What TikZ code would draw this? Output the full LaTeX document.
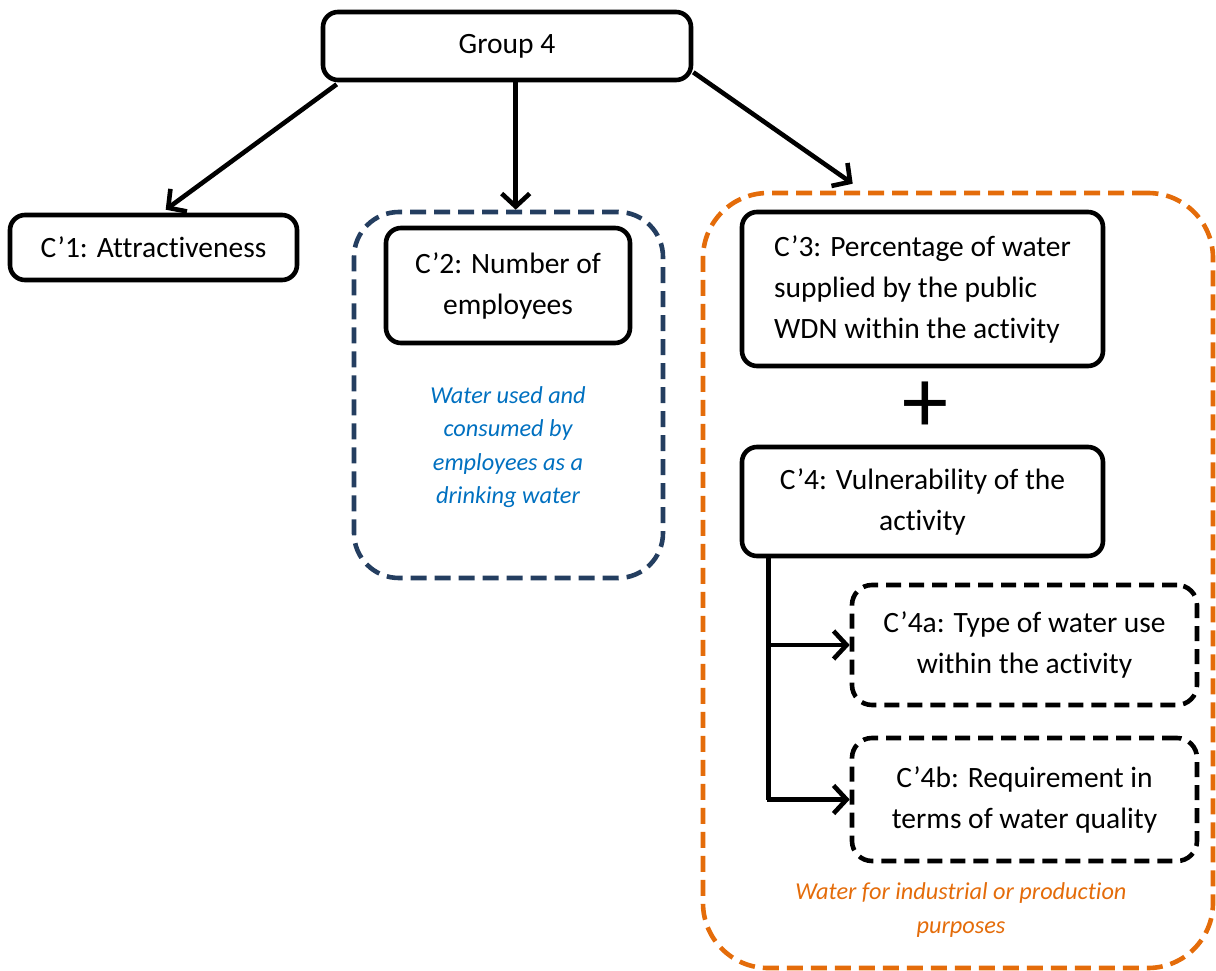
\documentclass[tikz,border=0pt]{standalone}
\usepackage{fontspec}
\setmainfont[Ligatures=NoCommon]{Carlito}
\usetikzlibrary{arrows.meta,calc}
\definecolor{navy}{RGB}{36,62,96}
\definecolor{orangeframe}{RGB}{228,108,10}
\definecolor{noteblue}{RGB}{0,112,192}
\tikzset{
  box/.style={draw=black, line width=4.6pt, rounded corners=15pt, inner sep=0pt,
    font=\fontsize{29.5}{41}\selectfont, align=center},
  dashbox/.style={box, dash pattern=on 15pt off 8pt, rounded corners=20pt},
  frame/.style={line width=4.6pt, inner sep=0pt, dash pattern=on 16pt off 8pt},
  note/.style={font=\fontsize{24.3}{33.5}\selectfont\itshape, align=center, inner sep=0pt},
  link/.style={line width=4.6pt, -{Straight Barb[length=13pt,width=28pt,line width=4.6pt]}},
  plain/.style={line width=4.6pt}
}
\begin{document}
\begin{tikzpicture}[x=1pt,y=-1pt]
\useasboundingbox (0,0) rectangle (1216,971);

% outer frames
\node[frame, draw=navy, rounded corners=45pt, minimum width=309pt, minimum height=366pt]
  (f2) at (508.5,395) {};
\node[frame, draw=orangeframe, rounded corners=65pt, minimum width=510pt, minimum height=775pt]
  (f3) at (958,580.5) {};

% criteria boxes
\node[box, minimum width=368pt, minimum height=68pt] (g) at (507,46) {Group 4};
\node[box, minimum width=287pt, minimum height=65pt] (c1) at (153.5,247.5) {C’1: Attractiveness};
\node[box, minimum width=244pt, minimum height=115pt] (c2) at (508,285.5) {C’2: Number of\\employees};
\node[box, minimum width=361pt, minimum height=154pt, align=left] (c3) at (922.5,289)
  {C’3: Percentage of water\\supplied by the public\\WDN within the activity};
\node[font=\fontsize{92}{92}\selectfont, inner sep=0pt] (plus) at (925,407) {+};
\node[box, minimum width=361pt, minimum height=109pt] (c4) at (922.5,501.5)
  {C’4: Vulnerability of the\\activity};
\node[dashbox, minimum width=345pt, minimum height=120pt] (c4a) at (1024.5,645)
  {C’4a: Type of water use\\within the activity};
\node[dashbox, minimum width=345pt, minimum height=123pt] (c4b) at (1024.5,799.5)
  {C’4b: Requirement in\\terms of water quality};

% notes
\node[note, text=noteblue] (n2) at (508,447) {Water used and\\consumed by\\employees as a\\drinking water};
\node[note, text=orangeframe] (n3) at (961,910) {Water for industrial or production\\purposes};

% connectors from the group box
\coordinate (gl) at ($(g.south west)+(16,2)$);
\coordinate (gr) at ($(g.south east)+(0,-10)$);
\draw[link] (gl) -- ($(c1.north west)+(158,-3)$);
\draw[link] ($(g.south west)+(195,0)$) -- ($(f2.north west)+(164,0)$);
\draw[link] (gr) -- ($(f3.north west)+(152,-7)$);

% branches of C'4
\coordinate (t) at ($(c4.south west)+(29,0)$);
\coordinate (ta) at (t |- c4a.west);
\coordinate (tb) at (t |- c4b.west);
\draw[plain] (t) -- (tb);
\draw[link] ([xshift=-2pt]ta) -- (c4a.west);
\draw[link] ([xshift=-2pt]tb) -- (c4b.west);
\end{tikzpicture}
\end{document}
